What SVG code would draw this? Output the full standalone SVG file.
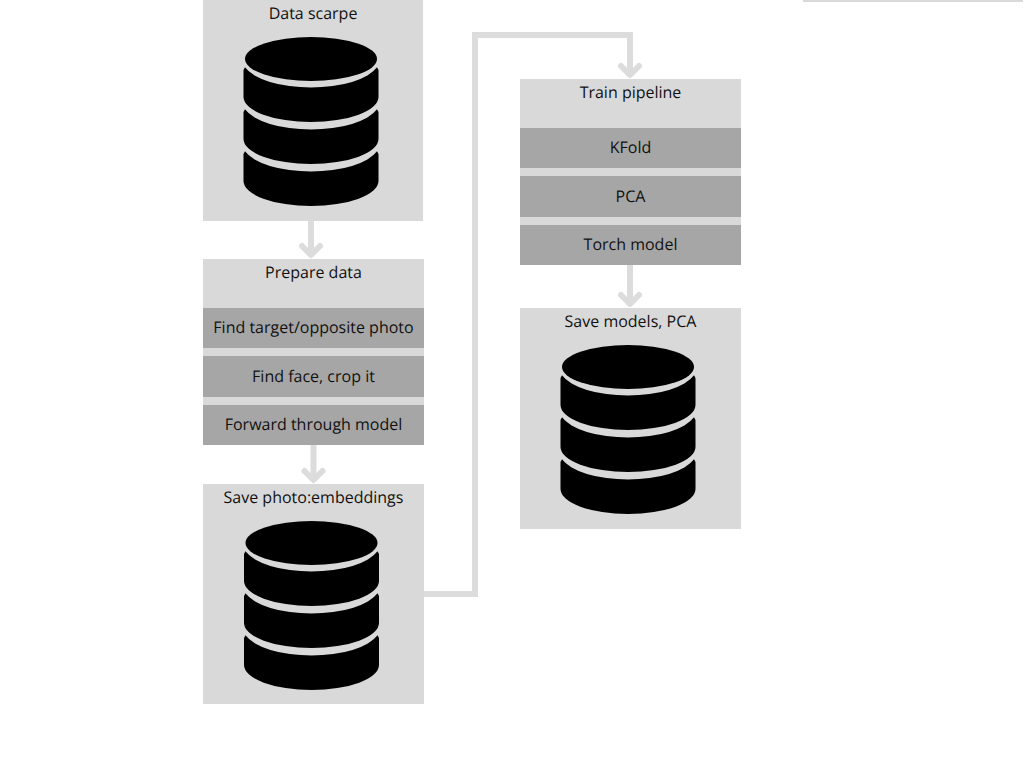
<svg xmlns="http://www.w3.org/2000/svg" width="1024" height="768" viewBox="0 0 1024 768">
<style>
.box{fill:#d9d9d9}
.bar{fill:#a6a6a6}
text{font-family:"Open Sans","Noto Sans","Liberation Sans",sans-serif;font-size:16px;fill:#111111;text-anchor:middle;text-rendering:geometricPrecision}
.conn{fill:none;stroke:#dcdcdc;stroke-width:6}
.head{stroke-linecap:round;stroke-linejoin:round}
</style>
<defs>
<g id="db">
<ellipse cx="311" cy="59" rx="66" ry="22"/>
<path id="layer" d="M245,67.3A69,28.5 0 0 0 377,67.3L378.5,70V97A67.5,25 0 0 1 243.5,97V70Z"/>
<use href="#layer" y="42"/>
<use href="#layer" y="84"/>
</g>
</defs>
<g id="connectors">
<path class="conn" d="M311,221V255"/>
<path class="conn head" d="M302,246L311,255L320,246"/>
<path class="conn" d="M313.5,445V480"/>
<path class="conn head" d="M304.5,471L313.5,480L322.5,471"/>
<path class="conn" d="M424,594H475V35H630V75"/>
<path class="conn head" d="M621,66L630,75L639,66"/>
<path class="conn" d="M630,265V304"/>
<path class="conn head" d="M621,295L630,304L639,295"/>
</g>
<g id="data-scarpe">
<rect class="box" x="203" y="-1" width="220" height="222"/>
<text x="313" y="19">Data scarpe</text>
<use href="#db"/>
</g>
<g id="prepare-data">
<rect class="box" x="203" y="259" width="221" height="186"/>
<text x="313.5" y="278">Prepare data</text>
<rect class="bar" x="203" y="308" width="221" height="40"/>
<text x="313.5" y="333">Find target/opposite photo</text>
<rect class="bar" x="203" y="356" width="221" height="41"/>
<text x="313.5" y="382">Find face, crop it</text>
<rect class="bar" x="203" y="405" width="221" height="40"/>
<text x="313.5" y="430">Forward through model</text>
</g>
<g id="save-photo-embeddings">
<rect class="box" x="203" y="484" width="221" height="220"/>
<text x="313.5" y="503">Save photo:embeddings</text>
<use href="#db" x="0.5" y="484"/>
</g>
<g id="train-pipeline">
<rect class="box" x="520" y="79" width="221" height="186"/>
<text x="630.5" y="98">Train pipeline</text>
<rect class="bar" x="520" y="128" width="221" height="40"/>
<text x="630.5" y="153">KFold</text>
<rect class="bar" x="520" y="176" width="221" height="41"/>
<text x="630.5" y="202">PCA</text>
<rect class="bar" x="520" y="225" width="221" height="40"/>
<text x="630.5" y="250">Torch model</text>
</g>
<g id="save-models-pca">
<rect class="box" x="520" y="308" width="221" height="221"/>
<text x="630.5" y="327">Save models, PCA</text>
<use href="#db" x="317" y="308"/>
</g>
<g id="top-right-node">
<rect class="box" x="803" y="-10" width="220" height="12"/>
</g>
</svg>
